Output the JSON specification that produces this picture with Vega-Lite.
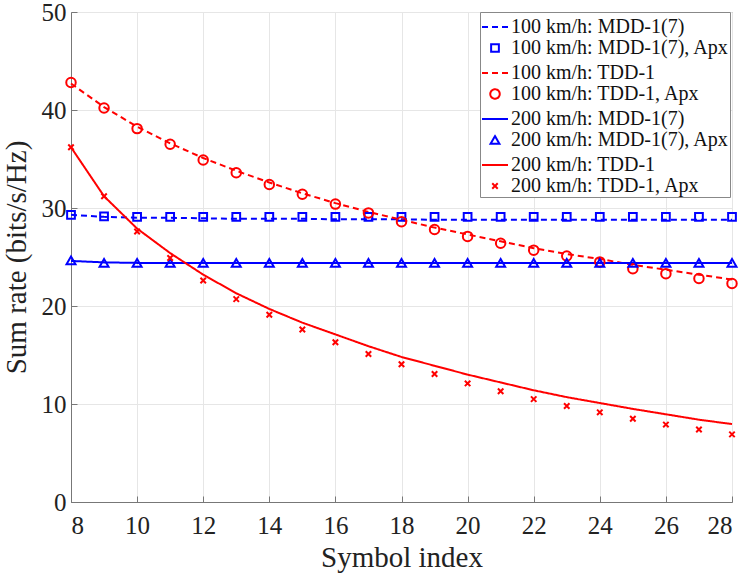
{
  "$schema": "https://vega.github.io/schema/vega-lite/v6.json",
  "width": 661,
  "height": 490,
  "autosize": "none",
  "padding": {"left": 71, "top": 12, "right": 15, "bottom": 78},
  "background": "white",
  "config": {
    "font": "Liberation Serif",
    "view": {"stroke": "#777", "strokeWidth": 1},
    "axis": {
      "grid": true, "gridColor": "#e6e6e6", "gridWidth": 1,
      "domainColor": "#777", "tickColor": "#777", "tickSize": -6,
      "labelFont": "Liberation Serif", "labelFontSize": 25, "labelColor": "#222",
      "titleFont": "Liberation Serif", "titleFontSize": 29, "titleFontWeight": "normal", "titleColor": "#222"
    },
    "legend": {
      "labelFont": "Liberation Serif", "labelFontSize": 20, "labelColor": "#111"
    }
  },
  "datasets": {
    "lines": [
      {"x": 8, "y": 29.3, "series": "100 km/h: MDD-1(7)"},
      {"x": 9, "y": 29.1, "series": "100 km/h: MDD-1(7)"},
      {"x": 10, "y": 29.0, "series": "100 km/h: MDD-1(7)"},
      {"x": 11, "y": 29.0, "series": "100 km/h: MDD-1(7)"},
      {"x": 12, "y": 28.95, "series": "100 km/h: MDD-1(7)"},
      {"x": 13, "y": 28.9, "series": "100 km/h: MDD-1(7)"},
      {"x": 14, "y": 28.9, "series": "100 km/h: MDD-1(7)"},
      {"x": 15, "y": 28.9, "series": "100 km/h: MDD-1(7)"},
      {"x": 16, "y": 28.85, "series": "100 km/h: MDD-1(7)"},
      {"x": 17, "y": 28.85, "series": "100 km/h: MDD-1(7)"},
      {"x": 18, "y": 28.85, "series": "100 km/h: MDD-1(7)"},
      {"x": 19, "y": 28.8, "series": "100 km/h: MDD-1(7)"},
      {"x": 20, "y": 28.8, "series": "100 km/h: MDD-1(7)"},
      {"x": 21, "y": 28.8, "series": "100 km/h: MDD-1(7)"},
      {"x": 22, "y": 28.8, "series": "100 km/h: MDD-1(7)"},
      {"x": 23, "y": 28.8, "series": "100 km/h: MDD-1(7)"},
      {"x": 24, "y": 28.8, "series": "100 km/h: MDD-1(7)"},
      {"x": 25, "y": 28.8, "series": "100 km/h: MDD-1(7)"},
      {"x": 26, "y": 28.8, "series": "100 km/h: MDD-1(7)"},
      {"x": 27, "y": 28.8, "series": "100 km/h: MDD-1(7)"},
      {"x": 28, "y": 28.8, "series": "100 km/h: MDD-1(7)"},
      {"x": 8, "y": 42.7, "series": "100 km/h: TDD-1"},
      {"x": 9, "y": 40.3, "series": "100 km/h: TDD-1"},
      {"x": 10, "y": 38.3, "series": "100 km/h: TDD-1"},
      {"x": 11, "y": 36.6, "series": "100 km/h: TDD-1"},
      {"x": 12, "y": 35.1, "series": "100 km/h: TDD-1"},
      {"x": 13, "y": 33.8, "series": "100 km/h: TDD-1"},
      {"x": 14, "y": 32.6, "series": "100 km/h: TDD-1"},
      {"x": 15, "y": 31.5, "series": "100 km/h: TDD-1"},
      {"x": 16, "y": 30.5, "series": "100 km/h: TDD-1"},
      {"x": 17, "y": 29.6, "series": "100 km/h: TDD-1"},
      {"x": 18, "y": 28.8, "series": "100 km/h: TDD-1"},
      {"x": 19, "y": 28.0, "series": "100 km/h: TDD-1"},
      {"x": 20, "y": 27.3, "series": "100 km/h: TDD-1"},
      {"x": 21, "y": 26.6, "series": "100 km/h: TDD-1"},
      {"x": 22, "y": 25.9, "series": "100 km/h: TDD-1"},
      {"x": 23, "y": 25.3, "series": "100 km/h: TDD-1"},
      {"x": 24, "y": 24.8, "series": "100 km/h: TDD-1"},
      {"x": 25, "y": 24.2, "series": "100 km/h: TDD-1"},
      {"x": 26, "y": 23.7, "series": "100 km/h: TDD-1"},
      {"x": 27, "y": 23.2, "series": "100 km/h: TDD-1"},
      {"x": 28, "y": 22.7, "series": "100 km/h: TDD-1"},
      {"x": 8, "y": 24.6, "series": "200 km/h: MDD-1(7)"},
      {"x": 9, "y": 24.45, "series": "200 km/h: MDD-1(7)"},
      {"x": 10, "y": 24.4, "series": "200 km/h: MDD-1(7)"},
      {"x": 11, "y": 24.4, "series": "200 km/h: MDD-1(7)"},
      {"x": 12, "y": 24.4, "series": "200 km/h: MDD-1(7)"},
      {"x": 13, "y": 24.4, "series": "200 km/h: MDD-1(7)"},
      {"x": 14, "y": 24.4, "series": "200 km/h: MDD-1(7)"},
      {"x": 15, "y": 24.4, "series": "200 km/h: MDD-1(7)"},
      {"x": 16, "y": 24.4, "series": "200 km/h: MDD-1(7)"},
      {"x": 17, "y": 24.4, "series": "200 km/h: MDD-1(7)"},
      {"x": 18, "y": 24.4, "series": "200 km/h: MDD-1(7)"},
      {"x": 19, "y": 24.4, "series": "200 km/h: MDD-1(7)"},
      {"x": 20, "y": 24.4, "series": "200 km/h: MDD-1(7)"},
      {"x": 21, "y": 24.4, "series": "200 km/h: MDD-1(7)"},
      {"x": 22, "y": 24.4, "series": "200 km/h: MDD-1(7)"},
      {"x": 23, "y": 24.4, "series": "200 km/h: MDD-1(7)"},
      {"x": 24, "y": 24.4, "series": "200 km/h: MDD-1(7)"},
      {"x": 25, "y": 24.4, "series": "200 km/h: MDD-1(7)"},
      {"x": 26, "y": 24.4, "series": "200 km/h: MDD-1(7)"},
      {"x": 27, "y": 24.4, "series": "200 km/h: MDD-1(7)"},
      {"x": 28, "y": 24.4, "series": "200 km/h: MDD-1(7)"},
      {"x": 8, "y": 36.2, "series": "200 km/h: TDD-1"},
      {"x": 9, "y": 31.2, "series": "200 km/h: TDD-1"},
      {"x": 10, "y": 27.9, "series": "200 km/h: TDD-1"},
      {"x": 11, "y": 25.4, "series": "200 km/h: TDD-1"},
      {"x": 12, "y": 23.2, "series": "200 km/h: TDD-1"},
      {"x": 13, "y": 21.3, "series": "200 km/h: TDD-1"},
      {"x": 14, "y": 19.7, "series": "200 km/h: TDD-1"},
      {"x": 15, "y": 18.3, "series": "200 km/h: TDD-1"},
      {"x": 16, "y": 17.1, "series": "200 km/h: TDD-1"},
      {"x": 17, "y": 15.9, "series": "200 km/h: TDD-1"},
      {"x": 18, "y": 14.8, "series": "200 km/h: TDD-1"},
      {"x": 19, "y": 13.9, "series": "200 km/h: TDD-1"},
      {"x": 20, "y": 13.0, "series": "200 km/h: TDD-1"},
      {"x": 21, "y": 12.2, "series": "200 km/h: TDD-1"},
      {"x": 22, "y": 11.4, "series": "200 km/h: TDD-1"},
      {"x": 23, "y": 10.7, "series": "200 km/h: TDD-1"},
      {"x": 24, "y": 10.1, "series": "200 km/h: TDD-1"},
      {"x": 25, "y": 9.5, "series": "200 km/h: TDD-1"},
      {"x": 26, "y": 8.95, "series": "200 km/h: TDD-1"},
      {"x": 27, "y": 8.4, "series": "200 km/h: TDD-1"},
      {"x": 28, "y": 7.95, "series": "200 km/h: TDD-1"}
    ],
    "points": [
      {"x": 8, "y": 29.3, "series": "100 km/h: MDD-1(7), Apx"},
      {"x": 9, "y": 29.15, "series": "100 km/h: MDD-1(7), Apx"},
      {"x": 10, "y": 29.1, "series": "100 km/h: MDD-1(7), Apx"},
      {"x": 11, "y": 29.1, "series": "100 km/h: MDD-1(7), Apx"},
      {"x": 12, "y": 29.1, "series": "100 km/h: MDD-1(7), Apx"},
      {"x": 13, "y": 29.1, "series": "100 km/h: MDD-1(7), Apx"},
      {"x": 14, "y": 29.1, "series": "100 km/h: MDD-1(7), Apx"},
      {"x": 15, "y": 29.1, "series": "100 km/h: MDD-1(7), Apx"},
      {"x": 16, "y": 29.1, "series": "100 km/h: MDD-1(7), Apx"},
      {"x": 17, "y": 29.1, "series": "100 km/h: MDD-1(7), Apx"},
      {"x": 18, "y": 29.1, "series": "100 km/h: MDD-1(7), Apx"},
      {"x": 19, "y": 29.1, "series": "100 km/h: MDD-1(7), Apx"},
      {"x": 20, "y": 29.1, "series": "100 km/h: MDD-1(7), Apx"},
      {"x": 21, "y": 29.1, "series": "100 km/h: MDD-1(7), Apx"},
      {"x": 22, "y": 29.1, "series": "100 km/h: MDD-1(7), Apx"},
      {"x": 23, "y": 29.1, "series": "100 km/h: MDD-1(7), Apx"},
      {"x": 24, "y": 29.1, "series": "100 km/h: MDD-1(7), Apx"},
      {"x": 25, "y": 29.1, "series": "100 km/h: MDD-1(7), Apx"},
      {"x": 26, "y": 29.1, "series": "100 km/h: MDD-1(7), Apx"},
      {"x": 27, "y": 29.1, "series": "100 km/h: MDD-1(7), Apx"},
      {"x": 28, "y": 29.1, "series": "100 km/h: MDD-1(7), Apx"},
      {"x": 8, "y": 42.8, "series": "100 km/h: TDD-1, Apx"},
      {"x": 9, "y": 40.2, "series": "100 km/h: TDD-1, Apx"},
      {"x": 10, "y": 38.1, "series": "100 km/h: TDD-1, Apx"},
      {"x": 11, "y": 36.5, "series": "100 km/h: TDD-1, Apx"},
      {"x": 12, "y": 34.9, "series": "100 km/h: TDD-1, Apx"},
      {"x": 13, "y": 33.6, "series": "100 km/h: TDD-1, Apx"},
      {"x": 14, "y": 32.4, "series": "100 km/h: TDD-1, Apx"},
      {"x": 15, "y": 31.4, "series": "100 km/h: TDD-1, Apx"},
      {"x": 16, "y": 30.4, "series": "100 km/h: TDD-1, Apx"},
      {"x": 17, "y": 29.5, "series": "100 km/h: TDD-1, Apx"},
      {"x": 18, "y": 28.6, "series": "100 km/h: TDD-1, Apx"},
      {"x": 19, "y": 27.8, "series": "100 km/h: TDD-1, Apx"},
      {"x": 20, "y": 27.1, "series": "100 km/h: TDD-1, Apx"},
      {"x": 21, "y": 26.4, "series": "100 km/h: TDD-1, Apx"},
      {"x": 22, "y": 25.7, "series": "100 km/h: TDD-1, Apx"},
      {"x": 23, "y": 25.1, "series": "100 km/h: TDD-1, Apx"},
      {"x": 24, "y": 24.5, "series": "100 km/h: TDD-1, Apx"},
      {"x": 25, "y": 23.8, "series": "100 km/h: TDD-1, Apx"},
      {"x": 26, "y": 23.3, "series": "100 km/h: TDD-1, Apx"},
      {"x": 27, "y": 22.8, "series": "100 km/h: TDD-1, Apx"},
      {"x": 28, "y": 22.3, "series": "100 km/h: TDD-1, Apx"},
      {"x": 8, "y": 24.65, "series": "200 km/h: MDD-1(7), Apx"},
      {"x": 9, "y": 24.4, "series": "200 km/h: MDD-1(7), Apx"},
      {"x": 10, "y": 24.4, "series": "200 km/h: MDD-1(7), Apx"},
      {"x": 11, "y": 24.4, "series": "200 km/h: MDD-1(7), Apx"},
      {"x": 12, "y": 24.4, "series": "200 km/h: MDD-1(7), Apx"},
      {"x": 13, "y": 24.4, "series": "200 km/h: MDD-1(7), Apx"},
      {"x": 14, "y": 24.4, "series": "200 km/h: MDD-1(7), Apx"},
      {"x": 15, "y": 24.4, "series": "200 km/h: MDD-1(7), Apx"},
      {"x": 16, "y": 24.4, "series": "200 km/h: MDD-1(7), Apx"},
      {"x": 17, "y": 24.4, "series": "200 km/h: MDD-1(7), Apx"},
      {"x": 18, "y": 24.4, "series": "200 km/h: MDD-1(7), Apx"},
      {"x": 19, "y": 24.4, "series": "200 km/h: MDD-1(7), Apx"},
      {"x": 20, "y": 24.4, "series": "200 km/h: MDD-1(7), Apx"},
      {"x": 21, "y": 24.4, "series": "200 km/h: MDD-1(7), Apx"},
      {"x": 22, "y": 24.4, "series": "200 km/h: MDD-1(7), Apx"},
      {"x": 23, "y": 24.4, "series": "200 km/h: MDD-1(7), Apx"},
      {"x": 24, "y": 24.4, "series": "200 km/h: MDD-1(7), Apx"},
      {"x": 25, "y": 24.4, "series": "200 km/h: MDD-1(7), Apx"},
      {"x": 26, "y": 24.4, "series": "200 km/h: MDD-1(7), Apx"},
      {"x": 27, "y": 24.4, "series": "200 km/h: MDD-1(7), Apx"},
      {"x": 28, "y": 24.4, "series": "200 km/h: MDD-1(7), Apx"},
      {"x": 8, "y": 36.2, "series": "200 km/h: TDD-1, Apx"},
      {"x": 9, "y": 31.2, "series": "200 km/h: TDD-1, Apx"},
      {"x": 10, "y": 27.6, "series": "200 km/h: TDD-1, Apx"},
      {"x": 11, "y": 24.9, "series": "200 km/h: TDD-1, Apx"},
      {"x": 12, "y": 22.6, "series": "200 km/h: TDD-1, Apx"},
      {"x": 13, "y": 20.7, "series": "200 km/h: TDD-1, Apx"},
      {"x": 14, "y": 19.1, "series": "200 km/h: TDD-1, Apx"},
      {"x": 15, "y": 17.6, "series": "200 km/h: TDD-1, Apx"},
      {"x": 16, "y": 16.3, "series": "200 km/h: TDD-1, Apx"},
      {"x": 17, "y": 15.1, "series": "200 km/h: TDD-1, Apx"},
      {"x": 18, "y": 14.05, "series": "200 km/h: TDD-1, Apx"},
      {"x": 19, "y": 13.06, "series": "200 km/h: TDD-1, Apx"},
      {"x": 20, "y": 12.1, "series": "200 km/h: TDD-1, Apx"},
      {"x": 21, "y": 11.3, "series": "200 km/h: TDD-1, Apx"},
      {"x": 22, "y": 10.5, "series": "200 km/h: TDD-1, Apx"},
      {"x": 23, "y": 9.8, "series": "200 km/h: TDD-1, Apx"},
      {"x": 24, "y": 9.15, "series": "200 km/h: TDD-1, Apx"},
      {"x": 25, "y": 8.5, "series": "200 km/h: TDD-1, Apx"},
      {"x": 26, "y": 7.9, "series": "200 km/h: TDD-1, Apx"},
      {"x": 27, "y": 7.4, "series": "200 km/h: TDD-1, Apx"},
      {"x": 28, "y": 6.9, "series": "200 km/h: TDD-1, Apx"}
    ]
  },
  "encoding": {
    "x": {
      "field": "x", "type": "quantitative",
      "scale": {"domain": [8, 28], "nice": false},
      "axis": {"values": [8, 10, 12, 14, 16, 18, 20, 22, 24, 26, 28], "title": "Symbol index", "labelPadding": 17, "titlePadding": 5}
    },
    "y": {
      "field": "y", "type": "quantitative",
      "scale": {"domain": [0, 50], "nice": false},
      "axis": {"values": [0, 10, 20, 30, 40, 50], "title": "Sum rate (bits/s/Hz)", "labelPadding": 11, "titlePadding": 10}
    },
    "color": {
      "field": "series", "type": "nominal",
      "scale": {
        "domain": ["100 km/h: MDD-1(7)", "100 km/h: MDD-1(7), Apx", "100 km/h: TDD-1", "100 km/h: TDD-1, Apx", "200 km/h: MDD-1(7)", "200 km/h: MDD-1(7), Apx", "200 km/h: TDD-1", "200 km/h: TDD-1, Apx"],
        "range": ["#0000ff", "#0000ff", "#ff0000", "#ff0000", "#0000ff", "#0000ff", "#ff0000", "#ff0000"]
      },
      "legend": {
        "title": null, "orient": "none", "legendX": 409, "legendY": 0,
        "strokeColor": "#888", "fillColor": "white", "padding": 1,
        "rowPadding": 1, "columnPadding": 0, "symbolOffset": 0,
        "symbolStrokeWidth": 2, "labelOffset": 2, "labelLimit": 0,
        "labelFontSize": 20
      }
    }
  },
  "layer": [
    {
      "data": {"name": "lines"},
      "mark": {"type": "line", "strokeWidth": 2},
      "encoding": {
        "strokeDash": {
          "field": "series", "type": "nominal",
          "scale": {
            "domain": ["100 km/h: MDD-1(7)", "100 km/h: MDD-1(7), Apx", "100 km/h: TDD-1", "100 km/h: TDD-1, Apx", "200 km/h: MDD-1(7)", "200 km/h: MDD-1(7), Apx", "200 km/h: TDD-1", "200 km/h: TDD-1, Apx"],
            "range": [[6, 4], [1, 0], [6, 4], [1, 0], [1, 0], [1, 0], [1, 0], [1, 0]]
          }
        }
      }
    },
    {
      "data": {"name": "points"},
      "mark": {"type": "point", "filled": false, "strokeWidth": 2, "opacity": 1},
      "encoding": {
        "shape": {
          "field": "series", "type": "nominal",
          "scale": {
            "domain": ["100 km/h: MDD-1(7)", "100 km/h: MDD-1(7), Apx", "100 km/h: TDD-1", "100 km/h: TDD-1, Apx", "200 km/h: MDD-1(7)", "200 km/h: MDD-1(7), Apx", "200 km/h: TDD-1", "200 km/h: TDD-1, Apx"],
            "range": ["stroke", "square", "stroke", "circle", "stroke", "triangle-up", "stroke", "M-1,-1L1,1M-1,1L1,-1"]
          }
        },
        "size": {
          "field": "series", "type": "nominal",
          "scale": {
            "type": "ordinal",
            "domain": ["100 km/h: MDD-1(7)", "100 km/h: MDD-1(7), Apx", "100 km/h: TDD-1", "100 km/h: TDD-1, Apx", "200 km/h: MDD-1(7)", "200 km/h: MDD-1(7), Apx", "200 km/h: TDD-1", "200 km/h: TDD-1, Apx"],
            "range": [676, 60, 676, 90, 676, 80, 676, 30]
          }
        }
      }
    }
  ]
}
